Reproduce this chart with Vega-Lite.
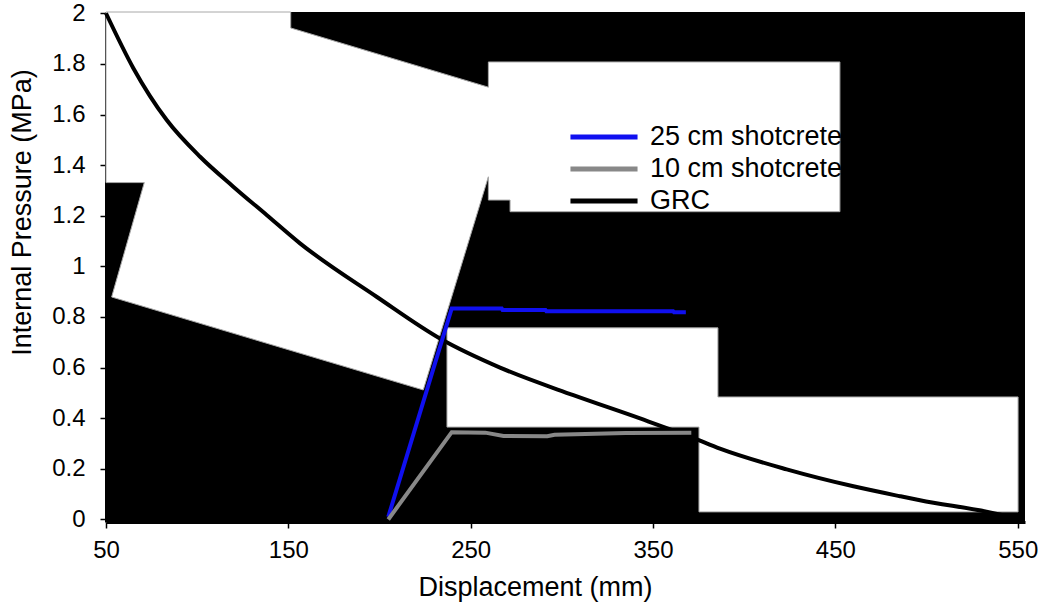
{
  "$schema": "https://vega.github.io/schema/vega-lite/v6.json",
  "width": 919,
  "height": 510,
  "autosize": {"type": "none"},
  "padding": {"left": 106, "top": 12, "right": 17, "bottom": 82},
  "background": "white",
  "config": {"view": {"fill": "black", "stroke": null}, "font": "Liberation Sans"},
  "datasets": {
    "curves": [
      {"series": "GRC", "i": 1, "displacement": 50, "pressure": 2.0},
      {"series": "GRC", "i": 2, "displacement": 65.0, "pressure": 1.783},
      {"series": "GRC", "i": 3, "displacement": 83.3, "pressure": 1.578},
      {"series": "GRC", "i": 4, "displacement": 101.6, "pressure": 1.433},
      {"series": "GRC", "i": 5, "displacement": 119.8, "pressure": 1.315},
      {"series": "GRC", "i": 6, "displacement": 138.1, "pressure": 1.203},
      {"series": "GRC", "i": 7, "displacement": 156.4, "pressure": 1.091},
      {"series": "GRC", "i": 8, "displacement": 198.4, "pressure": 0.880},
      {"series": "GRC", "i": 9, "displacement": 234.1, "pressure": 0.711},
      {"series": "GRC", "i": 10, "displacement": 266.1, "pressure": 0.600},
      {"series": "GRC", "i": 11, "displacement": 306.3, "pressure": 0.491},
      {"series": "GRC", "i": 12, "displacement": 342.9, "pressure": 0.399},
      {"series": "GRC", "i": 13, "displacement": 372.1, "pressure": 0.322},
      {"series": "GRC", "i": 14, "displacement": 386.7, "pressure": 0.280},
      {"series": "GRC", "i": 15, "displacement": 423.3, "pressure": 0.198},
      {"series": "GRC", "i": 16, "displacement": 459.9, "pressure": 0.131},
      {"series": "GRC", "i": 17, "displacement": 485.4, "pressure": 0.092},
      {"series": "GRC", "i": 18, "displacement": 496.4, "pressure": 0.076},
      {"series": "GRC", "i": 19, "displacement": 534.8, "pressure": 0.028},
      {"series": "GRC", "i": 20, "displacement": 545, "pressure": 0.012},
      {"series": "25 cm shotcrete", "i": 1, "displacement": 204.8, "pressure": 0.01},
      {"series": "25 cm shotcrete", "i": 2, "displacement": 239.6, "pressure": 0.834},
      {"series": "25 cm shotcrete", "i": 3, "displacement": 267, "pressure": 0.834},
      {"series": "25 cm shotcrete", "i": 4, "displacement": 267.5, "pressure": 0.828},
      {"series": "25 cm shotcrete", "i": 5, "displacement": 291, "pressure": 0.828},
      {"series": "25 cm shotcrete", "i": 6, "displacement": 291.5, "pressure": 0.823},
      {"series": "25 cm shotcrete", "i": 7, "displacement": 361, "pressure": 0.823},
      {"series": "25 cm shotcrete", "i": 8, "displacement": 361.5, "pressure": 0.819},
      {"series": "25 cm shotcrete", "i": 9, "displacement": 368, "pressure": 0.819},
      {"series": "10 cm shotcrete", "i": 1, "displacement": 204.8, "pressure": 0.0},
      {"series": "10 cm shotcrete", "i": 2, "displacement": 239.6, "pressure": 0.345},
      {"series": "10 cm shotcrete", "i": 3, "displacement": 258, "pressure": 0.343},
      {"series": "10 cm shotcrete", "i": 4, "displacement": 268, "pressure": 0.330},
      {"series": "10 cm shotcrete", "i": 5, "displacement": 292, "pressure": 0.329},
      {"series": "10 cm shotcrete", "i": 6, "displacement": 296, "pressure": 0.335},
      {"series": "10 cm shotcrete", "i": 7, "displacement": 313, "pressure": 0.338},
      {"series": "10 cm shotcrete", "i": 8, "displacement": 335, "pressure": 0.342},
      {"series": "10 cm shotcrete", "i": 9, "displacement": 371, "pressure": 0.343}
    ]
  },
  "encoding": {
    "x": {
      "field": "displacement", "type": "quantitative",
      "scale": {"domain": [50, 554], "nice": false, "zero": false},
      "axis": {
        "values": [50, 150, 250, 350, 450, 550], "grid": false, "labelFlush": false,
        "labelFontSize": 24, "labelColor": "black", "labelPadding": 10,
        "tickSize": 6, "tickWidth": 1.5, "tickColor": "black",
        "domainColor": "black", "domainWidth": 3,
        "title": "Displacement (mm)", "titleFontSize": 27, "titleFontWeight": "normal", "titleColor": "black",
        "titleX": 429, "titleY": 52
      }
    },
    "y": {
      "field": "pressure", "type": "quantitative",
      "scale": {"domain": [-0.01, 2.005], "nice": false, "zero": false},
      "axis": {
        "values": [0, 0.2, 0.4, 0.6, 0.8, 1, 1.2, 1.4, 1.6, 1.8, 2], "format": "~g", "grid": false, "labelFlush": false,
        "labelFontSize": 24, "labelColor": "black", "labelPadding": 15,
        "tickSize": 6, "tickWidth": 1.5, "tickColor": "black",
        "domainColor": "black", "domainWidth": 3,
        "title": "Internal Pressure (MPa)", "titleFontSize": 27, "titleFontWeight": "normal", "titleColor": "black",
        "titleX": -70, "titleY": 200
      }
    }
  },
  "layer": [
    {
      "data": {"values": [
        {"shape": "A", "i": 1, "displacement": 50, "pressure": 2.005},
        {"shape": "A", "i": 2, "displacement": 151.3, "pressure": 2.005},
        {"shape": "A", "i": 3, "displacement": 151.3, "pressure": 1.942},
        {"shape": "A", "i": 4, "displacement": 259.7, "pressure": 1.708},
        {"shape": "A", "i": 5, "displacement": 259.7, "pressure": 1.8076},
        {"shape": "A", "i": 6, "displacement": 452.5, "pressure": 1.8076},
        {"shape": "A", "i": 7, "displacement": 452.5, "pressure": 1.216},
        {"shape": "A", "i": 8, "displacement": 271.6, "pressure": 1.216},
        {"shape": "A", "i": 9, "displacement": 271.6, "pressure": 1.262},
        {"shape": "A", "i": 10, "displacement": 259.7, "pressure": 1.262},
        {"shape": "A", "i": 11, "displacement": 259.7, "pressure": 1.354},
        {"shape": "A", "i": 12, "displacement": 224.0, "pressure": 0.5117},
        {"shape": "A", "i": 13, "displacement": 53.1, "pressure": 0.879},
        {"shape": "A", "i": 14, "displacement": 71.0, "pressure": 1.331},
        {"shape": "A", "i": 15, "displacement": 50, "pressure": 1.331},
        {"shape": "D", "i": 1, "displacement": 237.0, "pressure": 0.757},
        {"shape": "D", "i": 2, "displacement": 385.6, "pressure": 0.757},
        {"shape": "D", "i": 3, "displacement": 385.6, "pressure": 0.484},
        {"shape": "D", "i": 4, "displacement": 550.2, "pressure": 0.484},
        {"shape": "D", "i": 5, "displacement": 550.2, "pressure": 0.030},
        {"shape": "D", "i": 6, "displacement": 375.2, "pressure": 0.030},
        {"shape": "D", "i": 7, "displacement": 375.2, "pressure": 0.365},
        {"shape": "D", "i": 8, "displacement": 237.0, "pressure": 0.365}
      ]},
      "mark": {"type": "line", "fill": "white", "stroke": "#a8a8a8", "strokeWidth": 1, "interpolate": "linear-closed"},
      "encoding": {
        "detail": {"field": "shape", "type": "nominal"},
        "order": {"field": "i", "type": "quantitative"}
      }
    },
    {
      "data": {"name": "curves"},
      "transform": [{"filter": "datum.series === 'GRC'"}],
      "mark": {"type": "line", "strokeWidth": 4, "interpolate": "monotone"},
      "encoding": {
        "color": {
          "field": "series", "type": "nominal",
          "scale": {"domain": ["25 cm shotcrete", "10 cm shotcrete", "GRC"], "range": ["#1010f0", "#888888", "#000000"]},
          "legend": {
            "orient": "none", "legendX": 484, "legendY": 111, "title": null, "padding": 0,
            "symbolType": "M-3,0H3", "symbolSize": 500, "symbolStrokeWidth": 5, "labelLimit": 0,
            "labelFontSize": 27, "labelColor": "black", "labelOffset": 32, "rowPadding": 5
          }
        },
        "order": {"field": "i", "type": "quantitative"}
      }
    },
    {
      "data": {"name": "curves"},
      "transform": [{"filter": "datum.series !== 'GRC'"}],
      "mark": {"type": "line", "strokeWidth": 4},
      "encoding": {
        "color": {
          "field": "series", "type": "nominal",
          "scale": {"domain": ["25 cm shotcrete", "10 cm shotcrete", "GRC"], "range": ["#1010f0", "#888888", "#000000"]},
          "legend": {
            "orient": "none", "legendX": 484, "legendY": 111, "title": null, "padding": 0,
            "symbolType": "M-3,0H3", "symbolSize": 500, "symbolStrokeWidth": 5, "labelLimit": 0,
            "labelFontSize": 27, "labelColor": "black", "labelOffset": 32, "rowPadding": 5
          }
        },
        "order": {"field": "i", "type": "quantitative"}
      }
    }
  ]
}
